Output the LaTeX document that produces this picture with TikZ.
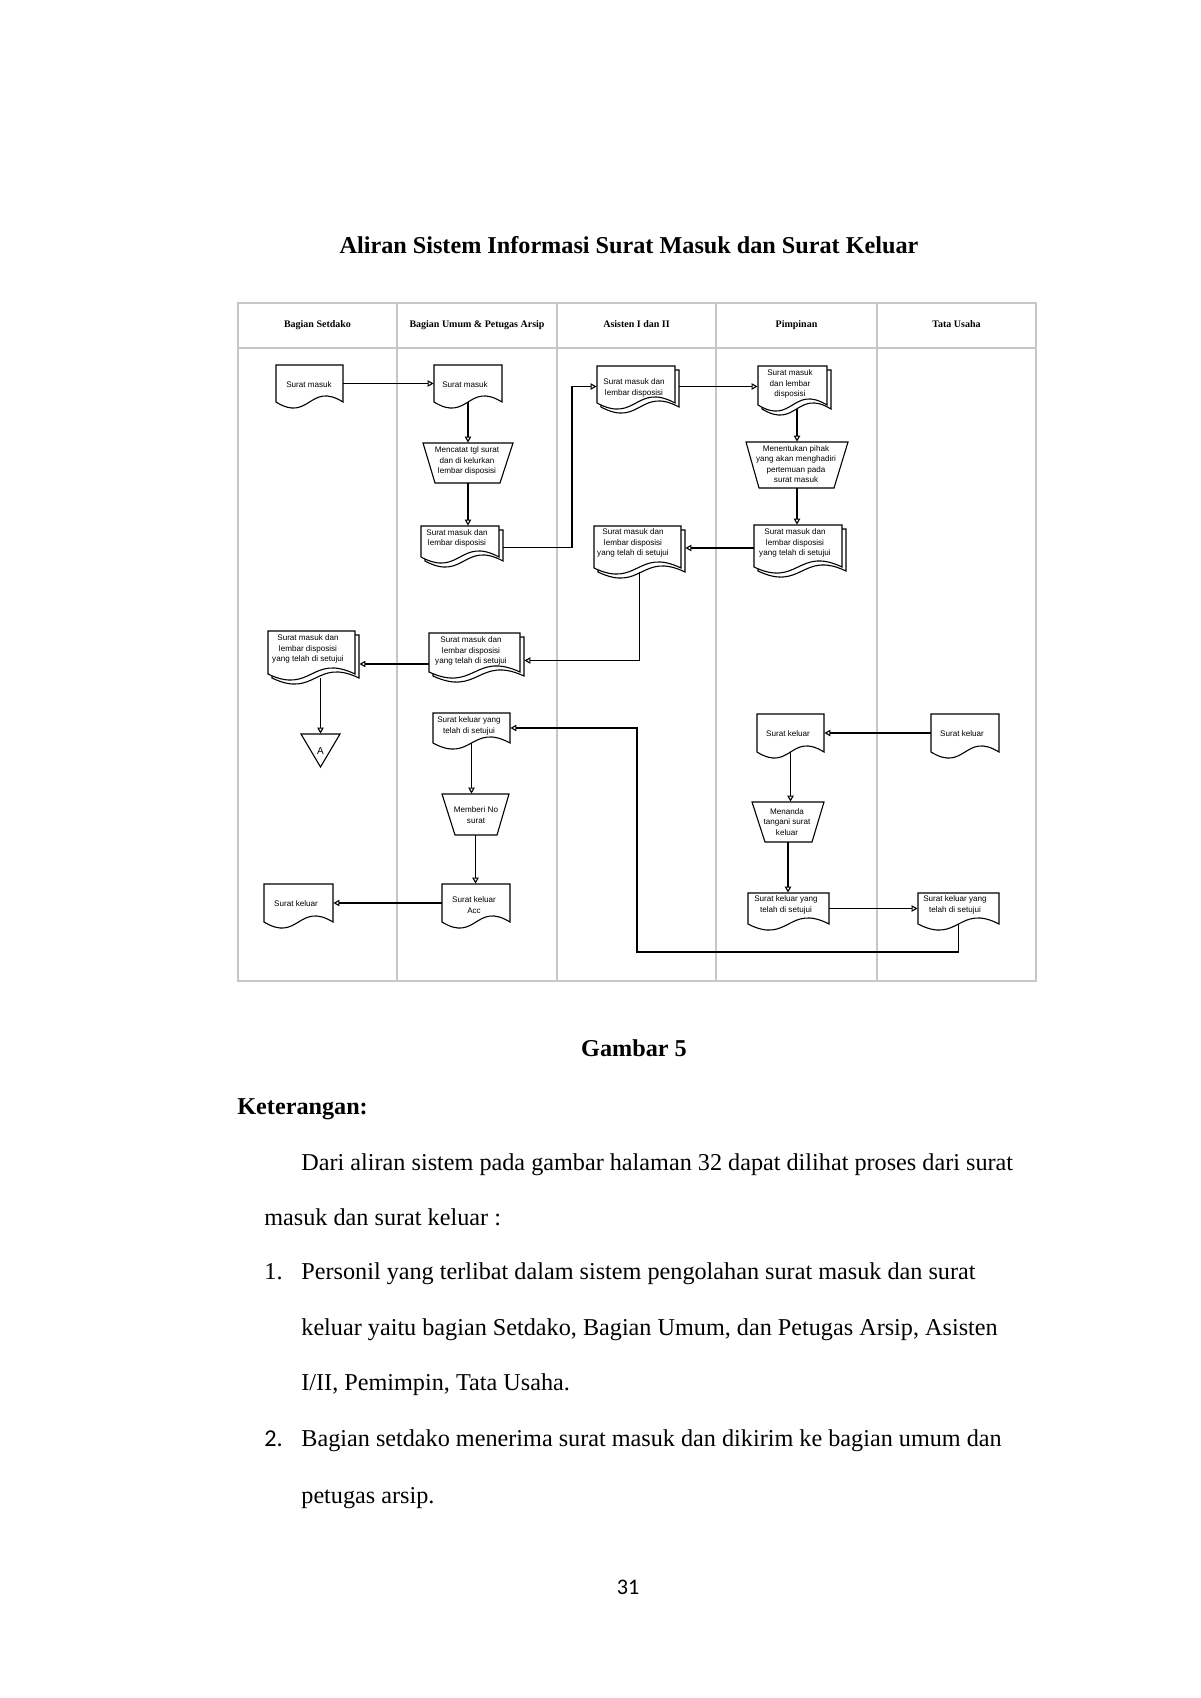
\documentclass[tikz,border=0pt]{standalone}
\usepackage{fontspec}
\setmainfont{Liberation Serif}
\newfontfamily\arialf{Liberation Sans}
\newfontfamily\calibf{Carlito}
\usetikzlibrary{arrows.meta,fit}

\tikzset{
  dline/.style={line width=0.55pt, draw=black},
  box/.style={inner sep=0pt, draw=none},
  arr/.style={line width=0.55pt, draw=black, -{Triangle[open,length=3pt,width=3.2pt]}},
  dtxt/.style={font=\arialf\fontsize{4.05pt}{5.3pt}\selectfont, align=center, inner sep=0pt},
  hdr/.style={font=\fontsize{5pt}{6pt}\selectfont\bfseries, inner sep=0pt, anchor=base},
  gridline/.style={draw=black!22, line width=0.7pt},
  body/.style={font=\fontsize{12.1pt}{14pt}\selectfont, inner sep=0pt, anchor=base west},
  bodyb/.style={font=\fontsize{12.1pt}{14pt}\selectfont\bfseries, inner sep=0pt},
}

% document outline: l t r c
\newcommand\docshape[4]{%
  \filldraw[fill=white, dline] (#1,#2) -- (#3,#2) -- (#3,#4)
    .. controls ({(#1+#3)/2},{#4-21}) and ({(#1+#3)/2},{#4+21}) .. (#1,#4) -- cycle;}
% single document: name l t r c
\newcommand\sdoc[5]{%
  \docshape{#2}{#3}{#4}{#5}%
  \node[fit={(#2,#3) (#4,#5)}, box] (#1) {};}
% multiple documents: name l t r c
\newcommand\mdoc[5]{%
  \docshape{#2+4}{#3+4}{#4+4}{#5+4}%
  \docshape{#2}{#3}{#4}{#5}%
  \node[fit={(#2,#3) ({#4+4},{#5+4})}, box] (#1) {};}
% manual operation trapezoid: name top bottom tl tr bl br
\newcommand\trap[7]{%
  \filldraw[fill=white, dline] (#4,#2) -- (#5,#2) -- (#7,#3) -- (#6,#3) -- cycle;
  \node[fit={(#4,#2) (#5,#3)}, box] (#1) {};}

\begin{document}
\begin{tikzpicture}[x=0.5pt,y=-0.5pt]
\fill[white] (0,0) rectangle (1200,1698);
\useasboundingbox (0,0) rectangle (1200,1698);

% title
\node[bodyb, anchor=base] (title) at (629,253) {Aliran Sistem Informasi Surat Masuk dan Surat Keluar};

% swimlane grid
\draw[gridline] (238,303) rectangle (1036,981);
\draw[gridline] (238,348) -- (1036,348);
\foreach \x in {397,557,716,877} \draw[gridline] (\x,303) -- (\x,981);

\node[hdr] (h1) at (317.5,327) {Bagian Setdako};
\node[hdr] (h2) at (477,327) {Bagian Umum \& Petugas Arsip};
\node[hdr] (h3) at (636.5,327) {Asisten I dan II};
\node[hdr] (h4) at (796.5,327) {Pimpinan};
\node[hdr] (h5) at (956.5,327) {Tata Usaha};

% Bagian Setdako
\sdoc{sA}{276}{365}{343}{402}
\node[dtxt] (sAt) at (309,385) {Surat masuk};
\mdoc{sB}{268}{631}{355}{674}
\node[dtxt] (sBt) at (308,649) {Surat masuk dan\\lembar disposisi\\yang telah di setujui};
\filldraw[fill=white, dline] (301,734) -- (340,734) -- (320.5,767) -- cycle;
\node[fit={(301,734) (340,767)}, box] (tri) {};
\node[font=\arialf\fontsize{5pt}{6pt}\selectfont, inner sep=0pt] (triA) at (320.5,751) {A};
\sdoc{sC}{264}{884}{333}{922}
\node[dtxt] (sCt) at (296,904) {Surat keluar};

% Bagian Umum & Petugas Arsip
\sdoc{uA}{434}{365}{502}{402}
\node[dtxt] (uAt) at (465,385) {Surat masuk};
\trap{uB}{443}{483}{423}{513}{435}{500}
\node[dtxt] (uBt) at (467,461) {Mencatat tgl surat\\dan di kelurkan\\lembar disposisi};
\mdoc{uC}{421}{526}{499}{557}
\node[dtxt] (uCt) at (457,538.5) {Surat masuk dan\\lembar disposisi};
\mdoc{uD}{429}{633}{520}{672}
\node[dtxt] (uDt) at (471,651) {Surat masuk dan\\lembar disposisi\\yang telah di setujui};
\sdoc{uE}{433}{713}{510}{743}
\node[dtxt] (uEt) at (469,726) {Surat keluar yang\\telah di setujui};
\trap{uF}{794}{835}{442}{509}{455}{497}
\node[dtxt] (uFt) at (476,815) {Memberi No\\surat};
\sdoc{uG}{442}{884}{510}{922}
\node[dtxt] (uGt) at (474,905) {Surat keluar\\Acc};

% Asisten I dan II
\mdoc{aA}{597}{366}{675}{403}
\node[dtxt] (aAt) at (634,388) {Surat masuk dan\\lembar disposisi};
\mdoc{aB}{594}{526}{681}{568}
\node[dtxt] (aBt) at (633,543) {Surat masuk dan\\lembar disposisi\\yang telah di setujui};

% Pimpinan
\mdoc{pA}{758}{366}{827}{405}
\node[dtxt] (pAt) at (790,384) {Surat masuk\\dan lembar\\disposisi};
\trap{pB}{442}{488}{746}{848}{759}{834}
\node[dtxt] (pBt) at (796,464) {Menentukan pihak\\yang akan menghadiri\\pertemuan pada\\surat masuk};
\mdoc{pC}{754}{525}{842}{567}
\node[dtxt] (pCt) at (795,543) {Surat masuk dan\\lembar disposisi\\yang telah di setujui};
\sdoc{pD}{757}{714}{824}{752}
\node[dtxt] (pDt) at (788,734) {Surat keluar};
\trap{pE}{802}{842}{752}{824}{765}{812}
\node[dtxt] (pEt) at (787,822) {Menanda\\tangani surat\\keluar};
\sdoc{pF}{748}{893}{829}{924}
\node[dtxt] (pFt) at (786,905) {Surat keluar yang\\telah di setujui};

% Tata Usaha
\sdoc{tA}{931}{714}{999}{752}
\node[dtxt] (tAt) at (962,734) {Surat keluar};
\sdoc{tB}{918}{893}{999}{924}
\node[dtxt] (tBt) at (955,905) {Surat keluar yang\\telah di setujui};

% connectors
\coordinate (k1) at (572,450);
\coordinate (k2) at (637,952);
\draw[arr] (sA.east) -- (uA.west);
\draw[arr] (uA.south) -- (uB.north);
\draw[arr] (uB.south) -- (uB.south |- uC.north);
\draw[arr] ([yshift=-2pt]uC.east) -| (k1) |- (aA.west);
\draw[arr] (aA.east) -- (aA.east -| pA.west);
\draw[arr] (pB.north |- pA.south) -- (pB.north);
\draw[arr] (pB.south) -- (pB.south |- pC.north);
\draw[arr] (pC.west) -- (pC.west -| aB.east);
\draw[arr] (aB.south) |- ([yshift=-3pt]uD.east);
\draw[arr] ([yshift=-4.75pt]uD.west) -- ([yshift=-4.75pt]uD.west -| sB.east);
\draw[arr] (tri.north |- sB.south) -- (tri.north);
\draw[arr] (tB.south) |- (k2) |- (uE.east);
\draw[arr] (tA.west) -- (pD.east);
\draw[arr] (pD.south) -- (pD.south |- pE.north);
\draw[arr] (pE.south) -- (pE.south |- pF.north);
\draw[arr] (pF.east) -- (tB.west);
\draw[arr] (uE.south) -- (uE.south |- uF.north);
\draw[arr] (uF.south) -- (uF.south |- uG.north);
\draw[arr] (uG.west) -- (sC.east);

% text below
\node[bodyb, anchor=base] (gambar) at (634,1056) {Gambar 5};
\node[bodyb, anchor=base west] (ket) at (237,1114) {Keterangan:};
\node[body] (p1) at (301,1170) {Dari aliran sistem pada gambar halaman 32 dapat dilihat proses dari surat};
\node[body] (p2) at (264,1225) {masuk dan surat keluar :};
\node[body] (n1) at (264,1279) {1.};
\node[body] (l1) at (301,1279) {Personil yang terlibat dalam sistem pengolahan surat masuk dan surat};
\node[body] (l2) at (301,1335) {keluar yaitu bagian Setdako, Bagian Umum, dan Petugas Arsip, Asisten};
\node[body] (l3) at (301,1390) {I/II, Pemimpin, Tata Usaha.};
\node[body, font=\calibf\fontsize{12.1pt}{14pt}\selectfont] (n2) at (264,1446) {2.};
\node[body] (l4) at (301,1446) {Bagian setdako menerima surat masuk dan dikirim ke bagian umum dan};
\node[body] (l5) at (301,1503) {petugas arsip.};
\node[font=\calibf\fontsize{11.1pt}{13pt}\selectfont, inner sep=0pt, anchor=base] (pg) at (628,1594) {31};
\end{tikzpicture}
\end{document}
